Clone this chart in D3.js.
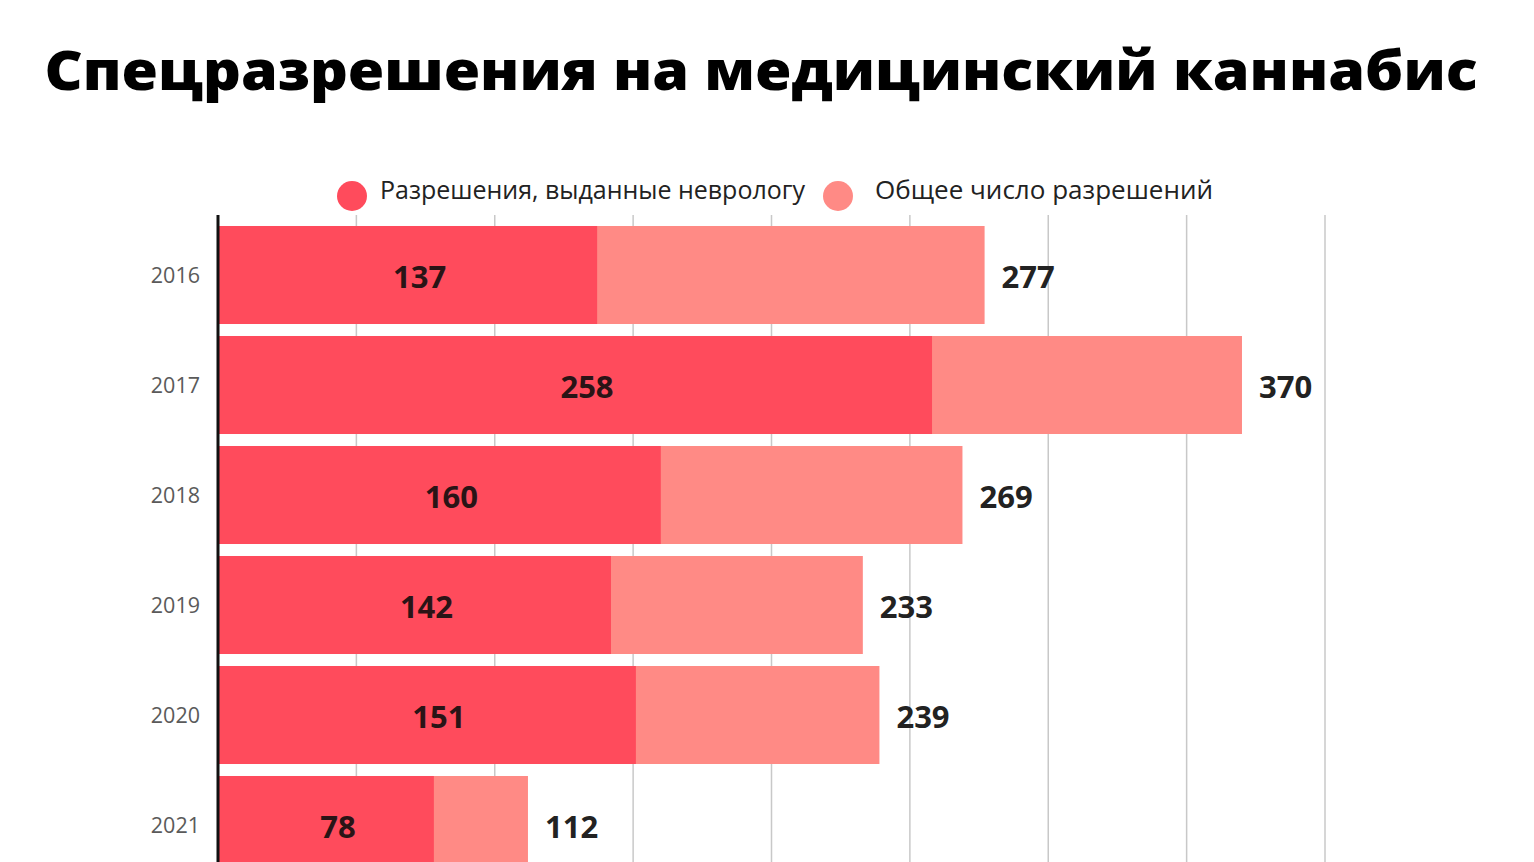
<!DOCTYPE html>
<html>
<head>
<meta charset="utf-8">
<script src="https://cdn.jsdelivr.net/npm/d3@7"></script>
<style>
  body{margin:0;background:#fff;overflow:hidden;}
  text{font-family:"Open Sans","Noto Sans",sans-serif;}
</style>
</head>
<body>
<div id="root"></div>
<script>
// data
var years=['2016','2017','2018','2019','2020','2021'];
var neuro=[137,258,160,142,151,78];
var total=[277,370,269,233,239,112];
var gridTicks=[50,100,150,200,250,300,350,400];
var legendLabels=['Разрешения, выданные неврологу','Общее число разрешений'];
var colors=['#ff4b5c','#ff8a85'];

var W=1534,H=862;
var svg=d3.select('#root').append('svg').attr('width',W).attr('height',H);

//title
svg.append('text')
  .attr('x',761).attr('y',90)
  .attr('text-anchor','middle')
  .attr('font-size',54).attr('font-weight',800)
  .attr('textLength',1433).attr('lengthAdjust','spacingAndGlyphs')
  .attr('fill','#000')
  .text('Спецразрешения на медицинский каннабис');

//scales
var xScale=d3.scaleLinear().domain([0,400]).range([218,1325]);
var yScale=d3.scaleBand().domain(years).range([220,880])
  .paddingInner(0.109).paddingOuter(0.0545);

//grid
svg.append('g').selectAll('line').data(gridTicks).enter().append('line')
  .attr('x1',function(d){return xScale(d)}).attr('x2',function(d){return xScale(d)})
  .attr('y1',215).attr('y2',H)
  .attr('stroke','#c8c8c8').attr('stroke-width',1.5);

var rows=years.map(function(y,i){return {year:y,neuro:neuro[i],total:total[i]}});

//total bars
svg.append('g').selectAll('rect').data(rows).enter().append('rect')
  .attr('x',xScale(0)).attr('y',function(d){return yScale(d.year)})
  .attr('width',function(d){return xScale(d.total)-xScale(0)})
  .attr('height',yScale.bandwidth())
  .attr('fill',colors[1]);

//neurologist bars
svg.append('g').selectAll('rect').data(rows).enter().append('rect')
  .attr('x',xScale(0)).attr('y',function(d){return yScale(d.year)})
  .attr('width',function(d){return xScale(d.neuro)-xScale(0)})
  .attr('height',yScale.bandwidth())
  .attr('fill',colors[0]);

//axis line
svg.append('line').attr('x1',xScale(0)).attr('x2',xScale(0))
  .attr('y1',215).attr('y2',H).attr('stroke','#111').attr('stroke-width',3);

//year labels
svg.append('g').selectAll('text').data(rows).enter().append('text')
  .attr('x',200).attr('y',function(d){return yScale(d.year)+yScale.bandwidth()/2})
  .attr('dy','0.35em').attr('text-anchor','end')
  .attr('font-size',21.5).attr('fill','#5a5a5a')
  .text(function(d){return d.year});

//value labels
svg.append('g').selectAll('text').data(rows).enter().append('text')
  .attr('x',function(d){return (xScale(0)+xScale(d.neuro))/2+12})
  .attr('y',function(d){return yScale(d.year)+yScale.bandwidth()/2+2})
  .attr('dy','0.36em').attr('text-anchor','middle')
  .attr('font-size',31).attr('font-weight',700).attr('fill','#2a1416')
  .text(function(d){return d.neuro});

svg.append('g').selectAll('text').data(rows).enter().append('text')
  .attr('x',function(d){return xScale(d.total)+17})
  .attr('y',function(d){return yScale(d.year)+yScale.bandwidth()/2+2})
  .attr('dy','0.36em')
  .attr('font-size',31).attr('font-weight',700).attr('fill','#222')
  .text(function(d){return d.total});

//legend
var legX=[352,838],legTextX=[380,875],legW=[425,338];
var leg=svg.append('g').selectAll('g').data(legendLabels).enter().append('g');
leg.append('circle').attr('cx',function(d,i){return legX[i]}).attr('cy',196).attr('r',15)
  .attr('fill',function(d,i){return colors[i]});
leg.append('text').attr('x',function(d,i){return legTextX[i]}).attr('y',199)
  .attr('font-size',25).attr('fill','#222')
  .attr('textLength',function(d,i){return legW[i]}).attr('lengthAdjust','spacingAndGlyphs')
  .text(function(d){return d});
</script>
</body>
</html>
